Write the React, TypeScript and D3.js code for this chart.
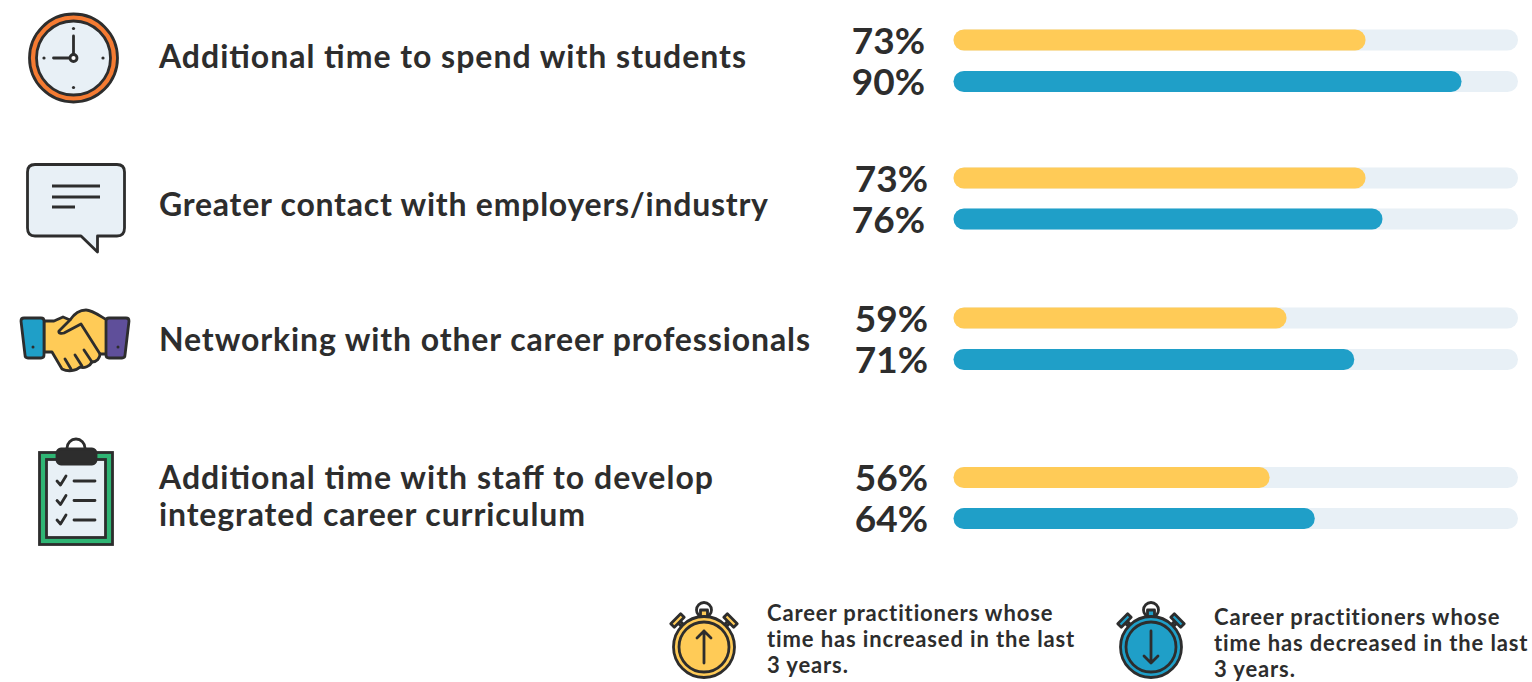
import React from "react";
import * as d3 from "d3";

const categories = [
  ["Additional time to spend with students"],
  ["Greater contact with employers/industry"],
  ["Networking with other career professionals"],
  ["Additional time with staff to develop", "integrated career curriculum"],
];
const increased = [73, 73, 59, 56];
const decreased = [90, 76, 71, 64];
const legendInc = ["Career practitioners whose", "time has increased in the last", "3 years."];
const legendDec = ["Career practitioners whose", "time has decreased in the last", "3 years."];

const W = 1532, H = 682;
const DARK = "#2d2d2d", YEL = "#ffcb57", BLUE = "#1f9fc8", TRACK = "#e8f0f6", OR = "#f57b32", GRN = "#2fb574", PUR = "#5f4f9a";
const FONT = "Lato, sans-serif";

const x = d3.scaleLinear().domain([0, 100]).range([953.5, 1518]);
const rowCentersInc = [40, 178, 318, 477.5];
const rowCentersDec = [81.5, 219, 359.5, 518.5];
const labelEnds = [[925, 925], [928, 925], [928, 928], [928, 928]];
const catBase = [[68], [216], [351], [489, 526]];
const catWidths = [[587], [609], [651], [554, 426]];
const BH = 21;

const Bar = ({ cy, v, color }: { cy: number; v: number; color: string }) => (
  <g>
    <rect x={x(0)} y={cy - BH / 2} width={x(100) - x(0)} height={BH} rx={BH / 2} fill={TRACK} />
    <rect x={x(0)} y={cy - BH / 2} width={x(v) - x(0)} height={BH} rx={BH / 2} fill={color} />
  </g>
);

const Clock = () => (
  <g stroke={DARK} strokeWidth={2.8}>
    <circle cx={73.5} cy={58} r={44} fill={OR} />
    <circle cx={73.5} cy={58} r={37} fill={TRACK} />
    <path d="M73.5 36V54M53.5 58H70" fill="none" strokeLinecap="round" />
    <circle cx={73.5} cy={58} r={3.5} fill="#fff" />
    {[[0, -29.5], [0, 29.5], [-29.5, 0], [29.5, 0]].map(([a, b], i) => (
      <circle key={i} cx={73.5 + a} cy={58 + b} r={1.6} fill={DARK} stroke="none" />
    ))}
  </g>
);

const Bubble = () => (
  <g stroke={DARK} strokeWidth={2.8} strokeLinejoin="round">
    <path d="M35 164.5H117Q124.5 164.5 124.5 172V228Q124.5 236 117 236H97.5V252L81 236H35Q27.5 236 27.5 228V172Q27.5 164.5 35 164.5Z" fill={TRACK} />
    <path d="M52 186H100M52 197H100M52 207H75" fill="none" />
  </g>
);

const Hands = () => (
  <g stroke={DARK} strokeWidth={2.8} strokeLinejoin="round" strokeLinecap="round">
    <path d="M44 321H54L63 317L70 320C74 314 80 310 86 310C92 310 100 316 107 320V354H100C100 358 97 362 92 362C90 366 84 369 80 367C76 371 68 372 62 369L52 352H44Z" fill={YEL} />
    <path d="M70 320L59 331C58 333 61 334 64 333L81 324L100 354" fill={YEL} />
    <path d="M65 359L71 369M75 355L82 366M84 350L92 362" fill="none" />
    <path d="M24 318H41Q44 318 44 321V355Q44 358 41 358H28Q25 358 25 355L21 321Q21 318 24 318Z" fill={BLUE} />
    <path d="M109 318H126Q129 318 129 321L125 355Q125 358 122 358H109Q106 358 106 355V321Q106 318 109 318Z" fill={PUR} />
    <circle cx={33} cy={347} r={1.5} fill={DARK} stroke="none" />
    <circle cx={118} cy={347} r={1.5} fill={DARK} stroke="none" />
  </g>
);

const Clipboard = () => (
  <g stroke={DARK} strokeWidth={2.8}>
    <rect x={39.5} y={452.5} width={73} height={92} fill={GRN} />
    <rect x={46.5} y={459.5} width={59} height={78} fill={TRACK} />
    <circle cx={76} cy={448} r={9} fill="none" />
    <rect x={57} y={449} width={39} height={15} rx={4} fill={DARK} />
    {[481, 500.5, 520].map((yy) => (
      <path key={yy} d={`M57 ${yy}L60.5 ${yy + 4}L66 ${yy - 5}M74 ${yy}H95`} fill="none" strokeLinecap="round" strokeLinejoin="round" />
    ))}
  </g>
);

const Stopwatch = ({ cx, fill, up }: { cx: number; fill: string; up: boolean }) => {
  const cy = 647;
  return (
    <g stroke={DARK} strokeWidth={2.8} strokeLinejoin="round">
      <circle cx={cx} cy={cy - 37} r={7.5} fill="#fff" />
      <rect x={cx - 3.5} y={cy - 37} width={7} height={7} fill={fill} />
      <g transform={`rotate(-45 ${cx} ${cy})`}>
        <rect x={cx - 1.5} y={cy - 36} width={3} height={6} fill={fill} />
        <rect x={cx - 7} y={cy - 40} width={14} height={5} fill={fill} />
      </g>
      <g transform={`rotate(45 ${cx} ${cy})`}>
        <rect x={cx - 1.5} y={cy - 36} width={3} height={6} fill={fill} />
        <rect x={cx - 7} y={cy - 40} width={14} height={5} fill={fill} />
      </g>
      <circle cx={cx} cy={cy} r={30.5} fill={fill} />
      <circle cx={cx} cy={cy} r={25} fill={fill} />
      {up ? (
        <path d={`M${cx} ${cy + 16}V${cy - 16}M${cx - 7} ${cy - 9}L${cx} ${cy - 16}L${cx + 7} ${cy - 9}`} fill="none" strokeLinecap="round" />
      ) : (
        <path d={`M${cx} ${cy - 16}V${cy + 16}M${cx - 7} ${cy + 9}L${cx} ${cy + 16}L${cx + 7} ${cy + 9}`} fill="none" strokeLinecap="round" />
      )}
    </g>
  );
};

export default function App() {
  return (
    <svg width={W} height={H} viewBox={`0 0 ${W} ${H}`} style={{ position: "absolute", left: 0, top: 0, display: "block" }} fontFamily={FONT} fill={DARK}>
      <Clock />
      <Bubble />
      <Hands />
      <Clipboard />
      {categories.map((lines, i) =>
        lines.map((t, j) => (
          <text key={t} x={159} y={catBase[i][j]} fontSize={32} fontWeight={700} textLength={catWidths[i][j]} lengthAdjust="spacing" fill={DARK}>{t}</text>
        ))
      )}
      {increased.map((v, i) => (
        <g key={i}>
          <Bar cy={rowCentersInc[i]} v={v} color={YEL} />
          <Bar cy={rowCentersDec[i]} v={decreased[i]} color={BLUE} />
          <text x={labelEnds[i][0]} y={rowCentersInc[i] + 13.5} textAnchor="end" fontSize={37} fontWeight={700} fill={DARK}>{v}%</text>
          <text x={labelEnds[i][1]} y={rowCentersDec[i] + 13.5} textAnchor="end" fontSize={37} fontWeight={700} fill={DARK}>{decreased[i]}%</text>
        </g>
      ))}
      <Stopwatch cx={704} fill={YEL} up />
      <Stopwatch cx={1151} fill={BLUE} up={false} />
      {legendInc.map((t, i) => (
        <text key={i} x={767} y={620.5 + i * 26} fontSize={22} fontWeight={700} letterSpacing={0.87} fill={DARK}>{t}</text>
      ))}
      {legendDec.map((t, i) => (
        <text key={i} x={1214} y={624.5 + i * 26} fontSize={22} fontWeight={700} letterSpacing={0.87} fill={DARK}>{t}</text>
      ))}
    </svg>
  );
}
